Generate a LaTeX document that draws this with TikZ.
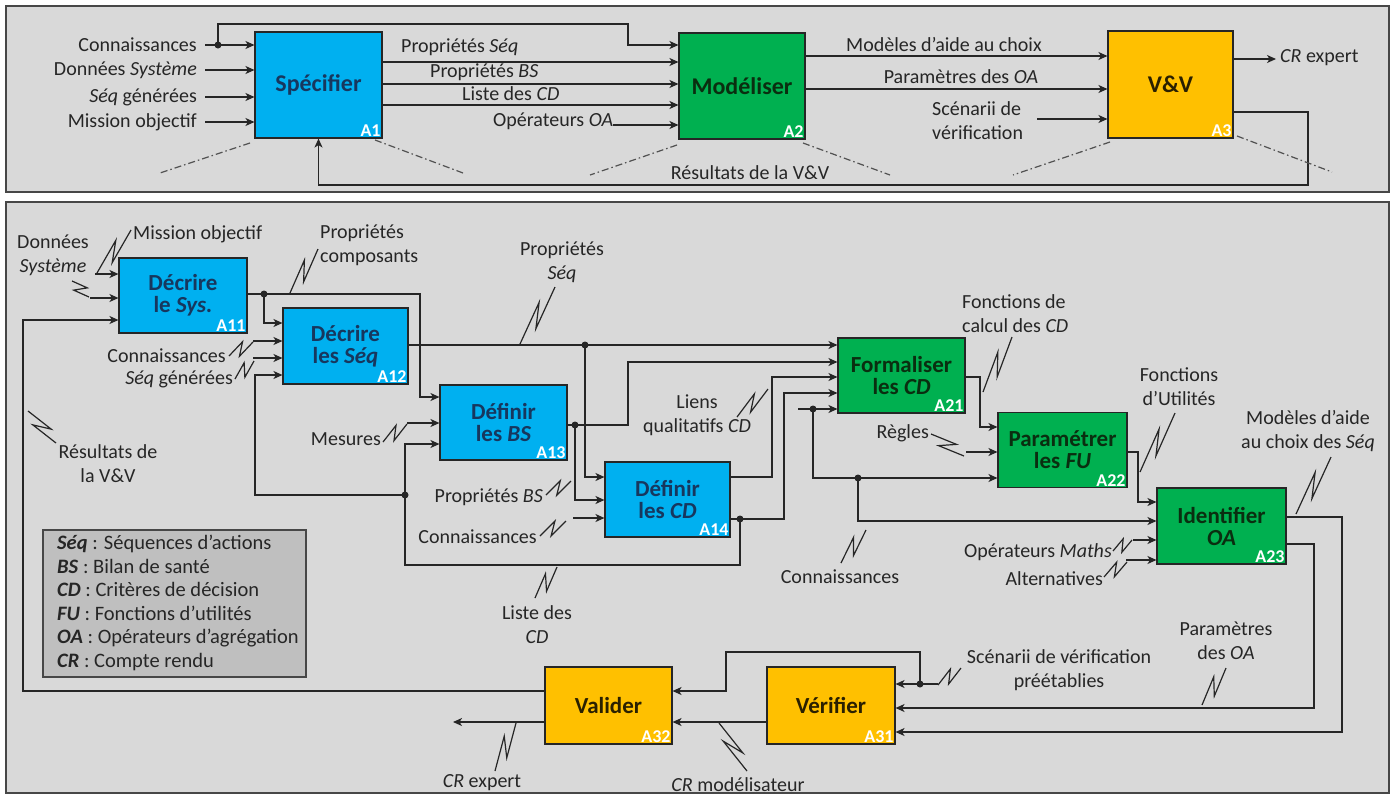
\documentclass[tikz,border=0pt]{standalone}
\usepackage{fontspec}
\setmainfont{Carlito}
\usetikzlibrary{calc,arrows.meta}
\definecolor{bluef}{HTML}{00B0F0}
\definecolor{greenf}{HTML}{00B050}
\definecolor{orangef}{HTML}{FFC000}
\definecolor{bluet}{HTML}{17375E}
\definecolor{greent}{HTML}{0A2E10}
\definecolor{oranget}{HTML}{2A2000}
\definecolor{panelf}{HTML}{D9D9D9}
\definecolor{legf}{HTML}{BFBFBF}
\definecolor{ink}{HTML}{262626}
\newcommand{\sqg}[2]{\draw[wire, line width=1.2pt] (#1) -- ($(#1)!0.68!(#2)!5.5pt!90:(#2)$) -- ($(#1)!0.32!(#2)!5.5pt!-90:(#2)$) -- (#2);}
\begin{document}
\begin{tikzpicture}[x=1pt,y=-1pt,
 panel/.style={draw=ink!85, line width=1.3pt, fill=panelf},
 boxbase/.style={draw=ink, line width=1.1pt, inner sep=0pt, align=center, font=\bfseries\fontsize{23}{22}\selectfont},
 bbox/.style={boxbase, fill=bluef, text=bluet},
 gbox/.style={boxbase, fill=greenf, text=greent},
 obox/.style={boxbase, fill=orangef, text=oranget},
 alab/.style={anchor=south east, inner sep=1.8pt, text=white, font=\bfseries\fontsize{18}{18}\selectfont},
 lbl/.style={inner sep=0pt, text=ink, font=\fontsize{20}{24}\selectfont},
 wire/.style={draw=ink, line width=1.4pt},
 arr/.style={wire, -{Stealth[length=9pt,width=8pt,inset=2.5pt]}},
 dd/.style={draw=ink!80, line width=1.2pt, dash pattern=on 7pt off 3pt on 1.5pt off 3pt},
 dotn/.style={circle, fill=ink, inner sep=0pt, minimum size=7pt},
 ]
\useasboundingbox (0,0) rectangle (1396,796);
\fill[white] (0,0) rectangle (1396,796);
%================ TOP PANEL
\draw[panel] (6,6) rectangle (1389,192);
\node[bbox, minimum width=127pt, minimum height=106pt, font=\bfseries\fontsize{24}{24}\selectfont] (A1) at (318.5,85) {Spécifier};
\node[alab] at (A1.south east) {A1};
\node[gbox, minimum width=126pt, minimum height=106pt, font=\bfseries\fontsize{24}{24}\selectfont] (A2) at (742,86) {Modéliser};
\node[alab] at (A2.south east) {A2};
\node[obox, minimum width=125pt, minimum height=107pt, font=\bfseries\fontsize{24}{24}\selectfont] (A3) at (1170.5,84.5) {V\&V};
\node[alab] at (A3.south east) {A3};
% inputs A1
\node[lbl, anchor=east] (i1) at (197,45) {Connaissances};
\node[lbl, anchor=east] (i2) at (197,70) {Données \textit{Système}};
\node[lbl, anchor=east] (i3) at (197,97) {\textit{Séq} générées};
\node[lbl, anchor=east] (i4) at (197,122) {Mission objectif};
\draw[arr] ([xshift=8pt]i1.east) -- (A1.west |- i1.east);
\draw[arr] ([xshift=8pt]i2.east) -- (A1.west |- i2.east);
\draw[arr] ([xshift=8pt]i3.east) -- (A1.west |- i3.east);
\draw[arr] ([xshift=8pt]i4.east) -- (A1.west |- i4.east);
\node[dotn] (dt1) at (218,45) {};
\draw[arr] (dt1.center) -- (218,24) -- (628,24) -- (628,45) -- (A2.west |- 0,45);
% A1 -> A2
\draw[arr] (A1.east |- 0,62) -- (A2.west |- 0,62);
\draw[arr] (A1.east |- 0,84) -- (A2.west |- 0,84);
\draw[arr] (A1.east |- 0,105) -- (A2.west |- 0,105);
\node[lbl, anchor=west] (o1) at (401,47) {Propriétés \textit{Séq}};
\node[lbl, anchor=west] (o2) at (430,72) {Propriétés \textit{BS}};
\node[lbl, anchor=west] (o3) at (462,94) {Liste des \textit{CD}};
\node[lbl, anchor=west] (o4) at (493,121) {Opérateurs \textit{OA}};
\draw[arr] (o4.east |- 0,125) -- (A2.west |- 0,125);
% A2 -> A3
\draw[arr] (A2.east |- 0,56) -- (A3.west |- 0,56);
\draw[arr] (A2.east |- 0,89) -- (A3.west |- 0,89);
\node[lbl] (m1) at (944,45) {Modèles d’aide au choix};
\node[lbl] (m2) at (961,77) {Paramètres des \textit{OA}};
\node[lbl, anchor=west, align=left] (sc) at (932,120.5) {Scénarii de\\vérification};
\draw[arr] (1037,119) -- (A3.west |- 0,119);
% A3 outputs
\draw[arr] (A3.east |- 0,59) -- (1276,59);
\node[lbl, anchor=west] (cr1) at (1280,58) {\textit{CR} expert};
\draw[arr] (A3.east |- 0,112) -- (1308,112) -- (1308,185) -| (A1.south);
\node[lbl] (rv1) at (750,173) {Résultats de la V\&V};
% dash-dot
\draw[dd] (250,143) -- (160,173);
\draw[dd] (375,140) -- (463,173);
\draw[dd] (677,145) -- (590,175);
\draw[dd] (803,143) -- (890,175);
\draw[dd] (1110,142) -- (1013,175);
\draw[dd] (1237,136) -- (1332,172);
%================ BOTTOM PANEL
\draw[panel] (6,202) rectangle (1389,793);
\node[bbox, minimum width=128pt, minimum height=75pt] (A11) at (183,295.5) {Décrire\\le \textit{Sys.}};
\node[alab] at (A11.south east) {A11};
\node[bbox, minimum width=125pt, minimum height=76pt] (A12) at (345.5,346) {Décrire\\les \textit{Séq}};
\node[alab] at (A12.south east) {A12};
\node[bbox, minimum width=127pt, minimum height=75pt] (A13) at (503.5,422.5) {Définir\\les \textit{BS}};
\node[alab] at (A13.south east) {A13};
\node[bbox, minimum width=125pt, minimum height=75pt] (A14) at (667.5,499.5) {Définir\\les \textit{CD}};
\node[alab] at (A14.south east) {A14};
\node[gbox, minimum width=127pt, minimum height=75pt] (A21) at (901.5,375.5) {Formaliser\\les \textit{CD}};
\node[alab] at (A21.south east) {A21};
\node[gbox, minimum width=129pt, minimum height=75pt] (A22) at (1062.5,450) {Paramétrer\\les \textit{FU}};
\node[alab] at (A22.south east) {A22};
\node[gbox, minimum width=129pt, minimum height=76pt] (A23) at (1221.5,526) {Identifier\\\textit{OA}};
\node[alab] at (A23.south east) {A23};
\node[obox, minimum width=128pt, minimum height=77pt] (A31) at (831,705.5) {Vérifier};
\node[alab] at (A31.south east) {A31};
\node[obox, minimum width=127pt, minimum height=77pt] (A32) at (608.5,705.5) {Valider};
\node[alab] at (A32.south east) {A32};
% A11 inputs
\node[lbl, align=center] (dsys) at (53,255.5) {Données\\\textit{Système}};
\node[lbl, anchor=west] (mobj) at (133,234) {Mission objectif};
\coordinate (s1) at (95,274);
\draw[arr] (s1) -- (A11.west |- s1);
\sqg{97,273}{131,230}
\coordinate (s2) at (90,298);
\draw[arr] (s2) -- (A11.west |- s2);
\sqg{72,281}{89,297}
% feedback loop
\draw[arr] (A32.west |- 0,691) -- (23,691) -- (23,320) -- (A11.west |- 0,320);
\node[lbl, align=center] (rvv) at (108,464) {Résultats de\\la V\&V};
\sqg{28,411}{56,443}
% A11 output
\node[dotn] (d11) at (264,294) {};
\draw[wire] (A11.east |- d11) -- (d11.center);
\draw[arr] (d11.center) -- (420,294) -- (420,397) -- (A13.west |- 0,397);
\draw[arr] (d11.center) |- (A12.west |- 0,323);
\node[lbl, align=left, anchor=west] (pcomp) at (320,245.5) {Propriétés\\composants};
\sqg{290,293}{318,249}
% A12 inputs
\node[lbl, anchor=east] (con1) at (226,356) {Connaissances};
\node[lbl, anchor=east] (seqg) at (233,379) {\textit{Séq} générées};
\draw[arr] (253,341) -- (A12.west |- 0,341);
\draw[arr] (253,358) -- (A12.west |- 0,358);
\sqg{229,356}{253,342}
\sqg{235,379}{254,361}
% loop from A14
\node[dotn] (d14) at (740,519) {};
\node[dotn] (d13b) at (405,495) {};
\draw[wire] (d14.center) -- (740,565) -- (405,565) -- (d13b.center);
\draw[arr] (d13b.center) -- (405,444) -- (A13.west |- 0,444);
\draw[arr] (d13b.center) -- (255,495) -- (255,375) -- (A12.west |- 0,375);
% A12 output
\node[dotn] (d12) at (585,345) {};
\draw[arr] (A12.east |- d12) -- (A21.west |- d12);
\draw[arr] (d12.center) |- (A14.west |- 0,477);
\node[lbl, align=center] (pseq) at (562,262.5) {Propriétés\\\textit{Séq}};
\sqg{520,344}{555,287}
% A13 inputs
\node[lbl, anchor=east] (mes) at (381,439) {Mesures};
\draw[arr] (407,423) -- (A13.west |- 0,423);
\sqg{383,442}{407,424}
% A13 output
\node[dotn] (d13) at (575,425) {};
\draw[wire] (A13.east |- d13) -- (d13.center);
\draw[arr] (d13.center) -- (628,425) -- (628,362) -- (A21.west |- 0,362);
\draw[arr] (d13.center) |- (A14.west |- 0,500);
\node[lbl, anchor=east] (pbs) at (543,497) {Propriétés \textit{BS}};
\sqg{546,495}{571,481}
% A14 inputs
\node[lbl, anchor=east] (con2) at (537,537) {Connaissances};
\draw[arr] (573,518) -- (A14.west |- 0,518);
\sqg{540,536}{566,521}
% A14 outputs
\draw[arr] (A14.east |- 0,477) -- (772,477) -- (772,377) -- (A21.west |- 0,377);
\draw[wire] (A14.east |- d14) -- (d14.center);
\draw[arr] (d14.center) -- (784,519) -- (784,393) -- (A21.west |- 0,393);
\node[lbl, align=center] (liens) at (697,415.5) {Liens\\qualitatifs \textit{CD}};
\sqg{737,417}{768,389}
\node[lbl, align=center] (lcd) at (537,625) {Liste des\\\textit{CD}};
\sqg{535,598}{557,567}
% Connaissances to A21/A22/A23
\node[dotn] (d21) at (813,409) {};
\node[dotn] (d22) at (858,478) {};
\draw[arr] (798,409) -- (A21.west |- 0,409);
\draw[wire] (d21.center) -- (813,478) -- (d22.center);
\draw[arr] (d22.center) -- (A22.west |- d22);
\draw[arr] (d22.center) |- (A23.west |- 0,521);
\node[lbl] (con3) at (840,577) {Connaissances};
\sqg{841,563}{866,530}
% A21 output
\draw[arr] (A21.east |- 0,377) -- (980,377) -- (980,427) -- (A22.west |- 0,427);
\node[lbl, align=left, anchor=west] (fcalc) at (962,313.5) {Fonctions de\\calcul des \textit{CD}};
\sqg{983,392}{1012,337}
% A22 inputs
\node[lbl, anchor=east] (reg) at (929,433) {Règles};
\draw[arr] (966,452) -- (A22.west |- 0,452);
\sqg{931,434}{964,456}
% A22 output
\draw[arr] (A22.east |- 0,452) -- (1138,452) -- (1138,502) -- (A23.west |- 0,502);
\node[lbl, align=center] (futil) at (1179,386.5) {Fonctions\\d’Utilités};
\sqg{1140,472}{1175,413}
% A23 inputs
\node[lbl, anchor=east] (opm) at (1112,552) {Opérateurs \textit{Maths}};
\draw[arr] (1133,540) -- (A23.west |- 0,540);
\sqg{1113,551}{1132,540}
\node[lbl, anchor=east] (alt) at (1103,579) {Alternatives};
\draw[arr] (1126,560) -- (A23.west |- 0,560);
\sqg{1104,577}{1127,562}
% A23 outputs
\draw[arr] (A23.east |- 0,517) -- (1342,517) -- (1342,732) -- (A31.east |- 0,732);
\draw[arr] (A23.east |- 0,544) -- (1314,544) -- (1314,708) -- (A31.east |- 0,708);
\node[lbl, align=center] (maide) at (1308,431.5) {Modèles d’aide\\au choix des \textit{Séq}};
\sqg{1296,514}{1331,457}
\node[lbl, align=center] (poa) at (1226,641) {Paramètres\\des \textit{OA}};
\sqg{1202,705}{1226,668}
% Scenarii
\node[dotn] (d31) at (920,684) {};
\draw[wire] (938,684) -- (d31.center);
\draw[arr] (d31.center) -- (A31.east |- d31);
\draw[arr] (d31.center) -- (920,652) -- (726,652) -- (726,691) -- (A32.east |- 0,691);
\node[lbl, align=center] (scen) at (1059,670.5) {Scénarii de vérification\\préétablies};
\sqg{938,685}{961,668}
% A31 -> A32
\draw[arr] (A31.west |- 0,722) -- (A32.east |- 0,722);
\node[lbl] (crm) at (738,785) {\textit{CR} modélisateur};
\sqg{719,723}{747,771}
% A32 output
\draw[arr] (A32.west |- 0,722) -- (453,722);
\node[lbl] (cre) at (482,783) {\textit{CR} expert};
\sqg{516,723}{495,771}
% legend
\node[draw=ink!85, line width=1.1pt, fill=legf, minimum width=263pt, minimum height=147pt, inner sep=0pt] (leg) at (174.5,603.5) {};
\node[lbl, anchor=west, align=left, font=\fontsize{20.5}{23.6}\selectfont] (legt) at (57,603) {\textbf{\textit{Séq}} : Séquences d’actions\\\textbf{\textit{BS}} : Bilan de santé\\\textbf{\textit{CD}} : Critères de décision\\\textbf{\textit{FU}} : Fonctions d’utilités\\\textbf{\textit{OA}} : Opérateurs d’agrégation\\\textbf{\textit{CR}} : Compte rendu};
\end{tikzpicture}
\end{document}
